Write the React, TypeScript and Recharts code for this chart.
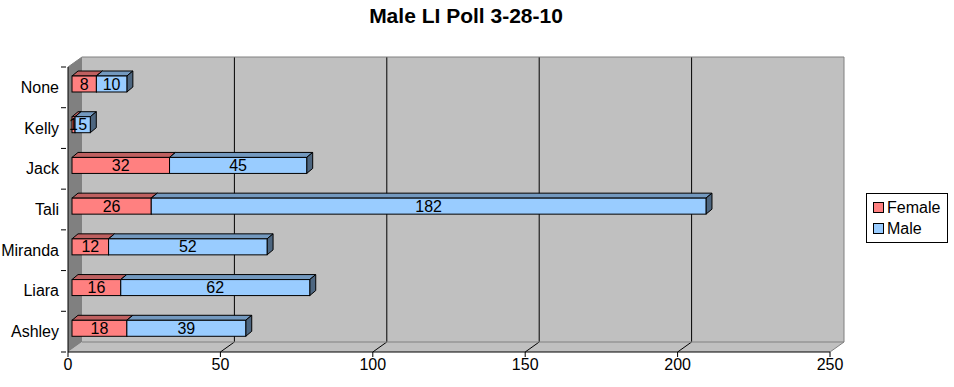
import { BarChart, Bar, XAxis, YAxis, LabelList, usePlotArea } from "recharts"

const categories = ["None", "Kelly", "Jack", "Tali", "Miranda", "Liara", "Ashley"]
const female = [8, 1, 32, 26, 12, 16, 18]
const male = [10, 5, 45, 182, 52, 62, 39]
const xTicks = [0, 50, 100, 150, 200, 250]

const series = [
  { key: "female", name: "Female", front: "#FF8080", top: "#BF6060", side: "#804040" },
  { key: "male", name: "Male", front: "#99CCFF", top: "#7399BF", side: "#4D6680" },
]

const data = categories.map((name, i) => ({ name, female: female[i], male: male[i] }))

// 3d offsets (depth of the walls, shift + depth of the bars)
const WALL_DX = 14
const WALL_DY = -10
const BAR_SHIFT_X = 4
const BAR_SHIFT_Y = -3
const BAR_DX = 6
const BAR_DY = -5

const font = "'Liberation Sans', Arial, sans-serif"

function Walls() {
  const area = usePlotArea()
  if (!area) return null
  const { x, y, width, height } = area
  const bx = x + WALL_DX
  const by = y + WALL_DY
  const bottom = y + height
  const max = xTicks[xTicks.length - 1]
  return (
    <g>
      <rect x={bx} y={by} width={width} height={height} fill="#C0C0C0" />
      <polygon
        points={`${x},${bottom} ${x + width},${bottom} ${bx + width},${bottom + WALL_DY} ${bx},${bottom + WALL_DY}`}
        fill="#C0C0C0"
      />
      <polygon points={`${x},${y} ${bx},${by} ${bx},${bottom + WALL_DY} ${x},${bottom}`} fill="#808080" />
      {xTicks.slice(1, -1).map((t) => {
        const gx = x + (t / max) * width
        return (
          <g key={t}>
            <line x1={gx + WALL_DX} y1={by} x2={gx + WALL_DX} y2={bottom + WALL_DY} stroke="#000" />
            <line x1={gx} y1={bottom} x2={gx + WALL_DX} y2={bottom + WALL_DY} stroke="#000" />
          </g>
        )
      })}
      <line x1={bx} y1={bottom + WALL_DY} x2={bx + width} y2={bottom + WALL_DY} stroke="#808080" />
      <polyline
        points={`${x},${y} ${bx},${by} ${bx + width},${by} ${bx + width},${bottom + WALL_DY} ${x + width},${bottom}`}
        fill="none"
        stroke="#808080"
      />
    </g>
  )
}

function makeShape(s: (typeof series)[number]) {
  return (props: any) => {
    const { x, y, width, height } = props
    if (!width || width <= 0) return <g />
    const fx = x + BAR_SHIFT_X
    const fy = y + BAR_SHIFT_Y
    const w = width
    const h = height
    return (
      <g>
        <polygon
          points={`${fx},${fy} ${fx + w},${fy} ${fx + w + BAR_DX},${fy + BAR_DY} ${fx + BAR_DX},${fy + BAR_DY}`}
          fill={s.top}
          stroke="#000"
          strokeWidth={1}
        />
        <polygon
          points={`${fx + w},${fy} ${fx + w + BAR_DX},${fy + BAR_DY} ${fx + w + BAR_DX},${fy + h + BAR_DY} ${fx + w},${fy + h}`}
          fill={s.side}
          stroke="#000"
          strokeWidth={1}
        />
        <rect x={fx} y={fy} width={w} height={h} fill={s.front} stroke="#000" strokeWidth={1} />
      </g>
    )
  }
}

function BarLabel(props: any) {
  const { x, y, width, height, value } = props
  return (
    <text
      x={x + BAR_SHIFT_X + width / 2}
      y={y + BAR_SHIFT_Y + height / 2}
      textAnchor="middle"
      dominantBaseline="central"
      fontFamily={font}
      fontSize={16}
      fill="#000"
    >
      {value}
    </text>
  )
}

function CategoryTick(props: any) {
  const { x, y, payload } = props
  const half = payload?.offset ?? 20
  return (
    <g>
      <text x={x - 1} y={y} textAnchor="end" dominantBaseline="central" fontFamily={font} fontSize={16} fill="#000">
        {payload.value}
      </text>
      <line x1={x + 1} y1={y + half} x2={x + 6} y2={y + half} stroke="#000" />
      {payload.index === 0 && <line x1={x + 1} y1={y - half} x2={x + 6} y2={y - half} stroke="#000" />}
    </g>
  )
}

export default function App() {
  return (
    <div style={{ position: "absolute", left: 0, top: 0, width: 954, height: 387, background: "#fff", fontFamily: font }}>
      <div
        style={{
          position: "absolute",
          left: 0,
          width: 932,
          top: 4,
          textAlign: "center",
          fontWeight: "bold",
          fontSize: 21,
          color: "#000",
        }}
      >
        Male LI Poll 3-28-10
      </div>
      <BarChart
        width={954}
        height={387}
        data={data}
        layout="vertical"
        margin={{ top: 67, right: 124, bottom: 0, left: 0 }}
        barSize={16}
      >
        <Walls />
        <XAxis
          type="number"
          domain={[0, 250]}
          ticks={xTicks}
          interval={0}
          height={35}
          axisLine={{ stroke: "#000" }}
          tickLine={{ stroke: "#000" }}
          tickSize={5}
          tick={{ fill: "#000", fontSize: 16, fontFamily: font }}
        />
        <YAxis
          type="category"
          dataKey="name"
          width={68}
          axisLine={{ stroke: "#000" }}
          tickLine={false}
          tick={<CategoryTick />}
          interval={0}
        />
        {series.map((s) => (
          <Bar
            key={s.key}
            dataKey={s.key}
            name={s.name}
            stackId="a"
            isAnimationActive={false}
            shape={makeShape(s)}
          >
            <LabelList dataKey={s.key} content={<BarLabel />} />
          </Bar>
        ))}
      </BarChart>
      <div
        style={{
          position: "absolute",
          left: 866,
          top: 193,
          width: 82,
          height: 50,
          border: "1px solid #000",
          boxSizing: "border-box",
          fontSize: 16,
          color: "#000",
          padding: "3px 0 0 6px",
        }}
      >
        {series.map((s) => (
          <div key={s.key} style={{ display: "flex", alignItems: "center", height: 21 }}>
            <span
              style={{
                display: "inline-block",
                width: 9,
                height: 9,
                background: s.front,
                border: "1px solid #000",
                marginRight: 3,
              }}
            />
            {s.name}
          </div>
        ))}
      </div>
    </div>
  )
}
